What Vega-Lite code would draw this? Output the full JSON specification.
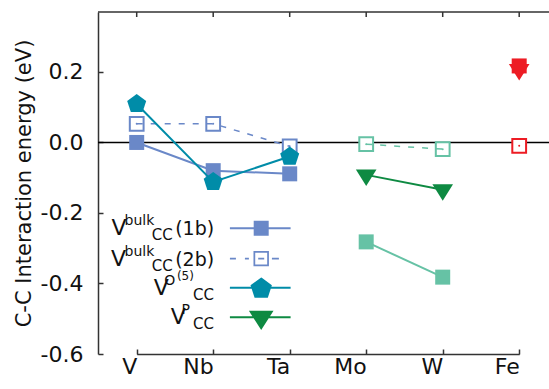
{
  "$schema": "https://vega.github.io/schema/vega-lite/v6.json",
  "width": 451,
  "height": 342,
  "autosize": "none",
  "padding": {"left": 98, "top": 12, "right": 0, "bottom": 35},
  "background": "white",
  "config": {
    "view": {"stroke": null},
    "font": "DejaVu Sans",
    "text": {"font": "DejaVu Sans", "color": "#111"},
    "axis": {"labelFont": "DejaVu Sans", "titleFont": "DejaVu Sans", "grid": false}
  },
  "datasets": {
    "energies": [
      {"metal": "V", "series": "1b", "set": "1b V-Ta", "value": 0.0},
      {"metal": "Nb", "series": "1b", "set": "1b V-Ta", "value": -0.080},
      {"metal": "Ta", "series": "1b", "set": "1b V-Ta", "value": -0.089},
      {"metal": "Mo", "series": "1b", "set": "1b Mo-W", "value": -0.282},
      {"metal": "W", "series": "1b", "set": "1b Mo-W", "value": -0.382},
      {"metal": "Fe", "series": "1b", "set": "1b Fe", "value": 0.217},
      {"metal": "V", "series": "2b", "set": "2b V-Ta", "value": 0.053},
      {"metal": "Nb", "series": "2b", "set": "2b V-Ta", "value": 0.053},
      {"metal": "Ta", "series": "2b", "set": "2b V-Ta", "value": -0.011},
      {"metal": "Mo", "series": "2b", "set": "2b Mo-W", "value": -0.005},
      {"metal": "W", "series": "2b", "set": "2b Mo-W", "value": -0.019},
      {"metal": "Fe", "series": "2b", "set": "2b Fe", "value": -0.0095},
      {"metal": "V", "series": "O5", "set": "O5 V-Ta", "value": 0.109},
      {"metal": "Nb", "series": "O5", "set": "O5 V-Ta", "value": -0.112},
      {"metal": "Ta", "series": "O5", "set": "O5 V-Ta", "value": -0.040},
      {"metal": "Mo", "series": "P", "set": "P Mo-W", "value": -0.092},
      {"metal": "W", "series": "P", "set": "P Mo-W", "value": -0.134},
      {"metal": "Fe", "series": "P", "set": "P Fe", "value": 0.207}
    ],
    "legend": [
      {"series": "1b", "base": "V", "sup": "bulk", "sub": "CC", "tail": "(1b)"},
      {"series": "2b", "base": "V", "sup": "bulk", "sub": "CC", "tail": "(2b)"},
      {"series": "O5", "base": "V", "sup": "O", "sup2": "(5)", "sub": "CC"},
      {"series": "P", "base": "V", "sup": "P", "sub": "CC"}
    ]
  },
  "data": {"name": "energies"},
  "layer": [
    {
      "data": {"values": [{}]},
      "mark": {"type": "rule", "color": "#000", "strokeWidth": 1.5},
      "encoding": {"y": {"datum": 0, "type": "quantitative"}}
    },
    {
      "data": {"values": [{}]},
      "mark": {"type": "rule", "color": "#333", "strokeWidth": 1.5},
      "encoding": {"y": {"datum": 0.37, "type": "quantitative"}}
    },
    {
      "transform": [{"filter": "datum.series == '2b'"}],
      "mark": {"type": "rule", "color": "#333", "strokeWidth": 1.5},
      "encoding": {
        "x": {"field": "metal", "type": "ordinal"},
        "y": {"datum": 0.37, "type": "quantitative"},
        "y2": {"datum": 0.3558}
      }
    },
    {
      "transform": [{"filter": "datum.series == '1b'"}],
      "mark": {"type": "line", "strokeWidth": 2},
      "encoding": {
        "x": {
          "field": "metal", "type": "ordinal",
          "scale": {"type": "point", "domain": ["V", "Nb", "Ta", "Mo", "W", "Fe"], "range": [38.7, 421.2], "padding": 0},
          "axis": {"title": null, "labelAngle": 0, "domainColor": "#333", "domainWidth": 1.5, "tickColor": "#333", "tickWidth": 1.5, "tickSize": -5, "labelFontSize": 22, "labelColor": "#111", "labelPadding": 17}
        },
        "y": {
          "field": "value", "type": "quantitative",
          "scale": {"domain": [-0.6, 0.37], "nice": false, "zero": false},
          "axis": {"title": "C-C Interaction energy (eV)", "values": [-0.6, -0.4, -0.2, 0, 0.2], "labelExpr": "replace(format(datum.value, '.1f'), '\u2212', '-')", "domainColor": "#333", "domainWidth": 1.5, "tickColor": "#333", "tickWidth": 1.5, "tickSize": -5, "labelFontSize": 22, "labelColor": "#111", "labelPadding": 20, "titleFontSize": 21, "titleFontWeight": "normal", "titleColor": "#111", "titlePadding": 6}
        },
        "color": {"field": "set", "type": "nominal", "legend": null,
          "scale": {"domain": ["1b V-Ta", "1b Mo-W", "1b Fe", "2b V-Ta", "2b Mo-W", "2b Fe", "O5 V-Ta", "P Mo-W", "P Fe"],
                    "range": ["#6a88c8", "#66c2a5", "#ed1c24", "#6a88c8", "#66c2a5", "#ed1c24", "#008ca8", "#0e8a42", "#ed1c24"]}}
      }
    },
    {
      "transform": [{"filter": "datum.series == '1b'"}],
      "mark": {"type": "point", "shape": "square", "size": 225, "filled": true, "opacity": 1},
      "encoding": {
        "x": {"field": "metal", "type": "ordinal"},
        "y": {"field": "value", "type": "quantitative"},
        "color": {"field": "set", "type": "nominal", "legend": null}
      }
    },
    {
      "transform": [{"filter": "datum.series == '2b'"}],
      "mark": {"type": "point", "shape": "square", "size": 190, "filled": false, "fill": "white", "fillOpacity": 1, "opacity": 1, "strokeWidth": 2},
      "encoding": {
        "x": {"field": "metal", "type": "ordinal"},
        "y": {"field": "value", "type": "quantitative"},
        "color": {"field": "set", "type": "nominal", "legend": null}
      }
    },
    {
      "transform": [{"filter": "datum.series == '2b'"}],
      "mark": {"type": "line", "strokeWidth": 1.5, "strokeDash": [6, 8]},
      "encoding": {
        "x": {"field": "metal", "type": "ordinal"},
        "y": {"field": "value", "type": "quantitative"},
        "color": {"field": "set", "type": "nominal", "legend": null}
      }
    },
    {
      "transform": [{"filter": "datum.series == '2b'"}],
      "mark": {"type": "point", "shape": "circle", "size": 4, "filled": true, "opacity": 1},
      "encoding": {
        "x": {"field": "metal", "type": "ordinal"},
        "y": {"field": "value", "type": "quantitative"},
        "color": {"field": "set", "type": "nominal", "legend": null}
      }
    },
    {
      "transform": [{"filter": "datum.series == 'O5'"}],
      "mark": {"type": "line", "strokeWidth": 2},
      "encoding": {
        "x": {"field": "metal", "type": "ordinal"},
        "y": {"field": "value", "type": "quantitative"},
        "color": {"field": "set", "type": "nominal", "legend": null}
      }
    },
    {
      "transform": [{"filter": "datum.series == 'O5'"}],
      "mark": {"type": "point", "shape": "M0,-1L0.951,-0.309L0.588,0.809L-0.588,0.809L-0.951,-0.309Z", "size": 400, "filled": true, "opacity": 1},
      "encoding": {
        "x": {"field": "metal", "type": "ordinal"},
        "y": {"field": "value", "type": "quantitative"},
        "color": {"field": "set", "type": "nominal", "legend": null}
      }
    },
    {
      "transform": [{"filter": "datum.series == 'P'"}],
      "mark": {"type": "line", "strokeWidth": 2},
      "encoding": {
        "x": {"field": "metal", "type": "ordinal"},
        "y": {"field": "value", "type": "quantitative"},
        "color": {"field": "set", "type": "nominal", "legend": null}
      }
    },
    {
      "transform": [{"filter": "datum.series == 'P'"}],
      "mark": {"type": "point", "shape": "M-1.03,-0.55L1.03,-0.55L0,1.1Z", "size": 400, "filled": true, "opacity": 1},
      "encoding": {
        "x": {"field": "metal", "type": "ordinal"},
        "y": {"field": "value", "type": "quantitative"},
        "color": {"field": "set", "type": "nominal", "legend": null}
      }
    },
    {
      "data": {"name": "legend"},
      "transform": [{"filter": "datum.series == '1b'"}],
      "encoding": {"x": {"datum": "Nb", "type": "ordinal"}, "y": {"datum": -0.2434, "type": "quantitative"}},
      "layer": [
        {"mark": {"type": "point", "shape": "M2.227,0H10.32M5.533,-0.867H7.267V0.867H5.533Z", "size": 225, "filled": true, "fill": "#6a88c8", "stroke": "#6a88c8", "strokeWidth": 2, "opacity": 1}},
        {"mark": {"type": "text", "align": "left", "baseline": "alphabetic", "fontSize": 22, "dx": -101.8, "dy": 7}, "encoding": {"text": {"field": "base"}}},
        {"mark": {"type": "text", "align": "left", "baseline": "alphabetic", "fontSize": 14, "dx": -88.6, "dy": -3}, "encoding": {"text": {"field": "sup"}}},
        {"mark": {"type": "text", "align": "left", "baseline": "alphabetic", "fontSize": 15, "dx": -61.4, "dy": 12}, "encoding": {"text": {"field": "sub"}}},
        {"mark": {"type": "text", "align": "left", "baseline": "alphabetic", "fontSize": 19, "dx": -38, "dy": 7}, "encoding": {"text": {"field": "tail"}}}
      ]
    },
    {
      "data": {"name": "legend"},
      "transform": [{"filter": "datum.series == '2b'"}],
      "encoding": {"x": {"datum": "Nb", "type": "ordinal"}, "y": {"datum": -0.3295, "type": "quantitative"}},
      "layer": [
        {"mark": {"type": "point", "shape": "M2.23,0H3.03M4.23,0H4.76M5.487,-0.913H7.313V0.913H5.487ZM6.0,0H6.8M7.83,0H8.76", "size": 225, "filled": false, "fill": "white", "fillOpacity": 1, "stroke": "#6a88c8", "strokeWidth": 1.75, "opacity": 1}},
        {"mark": {"type": "text", "align": "left", "baseline": "alphabetic", "fontSize": 22, "dx": -102.2, "dy": 7}, "encoding": {"text": {"field": "base"}}},
        {"mark": {"type": "text", "align": "left", "baseline": "alphabetic", "fontSize": 14, "dx": -88.6, "dy": -3}, "encoding": {"text": {"field": "sup"}}},
        {"mark": {"type": "text", "align": "left", "baseline": "alphabetic", "fontSize": 15, "dx": -61.4, "dy": 12}, "encoding": {"text": {"field": "sub"}}},
        {"mark": {"type": "text", "align": "left", "baseline": "alphabetic", "fontSize": 19, "dx": -38, "dy": 7}, "encoding": {"text": {"field": "tail"}}}
      ]
    },
    {
      "data": {"name": "legend"},
      "transform": [{"filter": "datum.series == 'O5'"}],
      "encoding": {"x": {"datum": "Nb", "type": "ordinal"}, "y": {"datum": -0.4119, "type": "quantitative"}},
      "layer": [
        {"mark": {"type": "point", "shape": "M1.67,0H7.74M4.8,-0.9L5.751,-0.209L5.388,0.909L4.212,0.909L3.849,-0.209Z", "size": 400, "filled": true, "fill": "#008ca8", "stroke": "#008ca8", "strokeWidth": 2, "opacity": 1}},
        {"mark": {"type": "text", "align": "left", "baseline": "alphabetic", "fontSize": 22, "dx": -59.5, "dy": 7}, "encoding": {"text": {"field": "base"}}},
        {"mark": {"type": "text", "align": "left", "baseline": "alphabetic", "fontSize": 14, "dx": -49, "dy": -3}, "encoding": {"text": {"field": "sup"}}},
        {"mark": {"type": "text", "align": "left", "baseline": "alphabetic", "fontSize": 12, "dx": -36.3, "dy": -8}, "encoding": {"text": {"field": "sup2"}}},
        {"mark": {"type": "text", "align": "left", "baseline": "alphabetic", "fontSize": 15, "dx": -20.1, "dy": 12}, "encoding": {"text": {"field": "sub"}}}
      ]
    },
    {
      "data": {"name": "legend"},
      "transform": [{"filter": "datum.series == 'P'"}],
      "encoding": {"x": {"datum": "Nb", "type": "ordinal"}, "y": {"datum": -0.4958, "type": "quantitative"}},
      "layer": [
        {"mark": {"type": "point", "shape": "M1.67,0H7.74M3.75,-0.55L5.85,-0.55L4.8,1.1Z", "size": 400, "filled": true, "fill": "#0e8a42", "stroke": "#0e8a42", "strokeWidth": 2, "opacity": 1}},
        {"mark": {"type": "text", "align": "left", "baseline": "alphabetic", "fontSize": 22, "dx": -42.5, "dy": 7}, "encoding": {"text": {"field": "base"}}},
        {"mark": {"type": "text", "align": "left", "baseline": "alphabetic", "fontSize": 14, "dx": -31.6, "dy": -3}, "encoding": {"text": {"field": "sup"}}},
        {"mark": {"type": "text", "align": "left", "baseline": "alphabetic", "fontSize": 15, "dx": -20.1, "dy": 12}, "encoding": {"text": {"field": "sub"}}}
      ]
    }
  ]
}
